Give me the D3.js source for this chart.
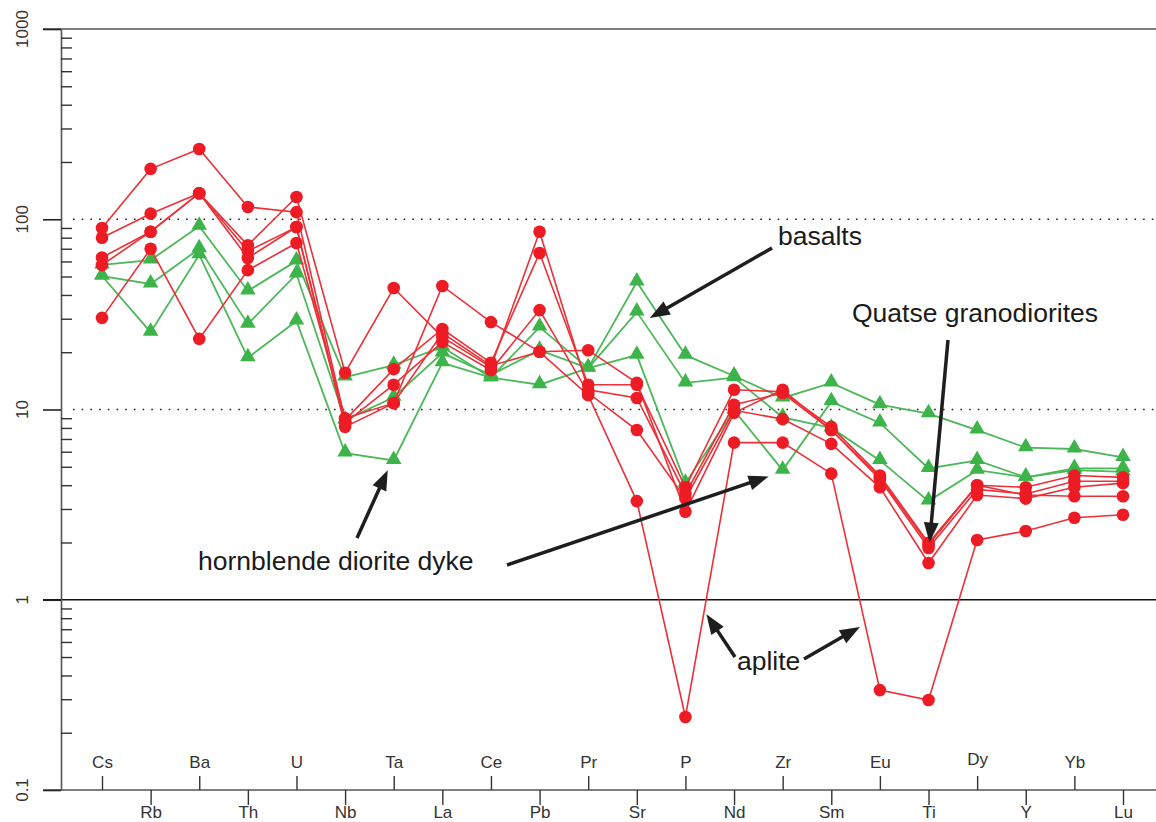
<!DOCTYPE html>
<html>
<head>
<meta charset="utf-8">
<script src="https://cdn.jsdelivr.net/npm/d3@7"></script>
<style>
  body { margin: 0; background: #fff; }
  text { font-family: "Liberation Sans", Arial, sans-serif; }
</style>
</head>
<body>
<div id="my_dataviz"></div>
<script>
// Elements along the spider diagram (odd ones labelled above the axis, even ones below)
const elements = ["Cs", "Rb", "Ba", "Th", "U", "Nb", "Ta", "La", "Ce", "Pb", "Pr",
                  "Sr", "P", "Nd", "Zr", "Sm", "Eu", "Ti", "Dy", "Y", "Yb", "Lu"];

// Quatse granodiorites + aplite (red circles)
const granodiorite1 = [90, 184, 234, 116, 109, 8.8, 16.3, 26.5, 17.6, 66.5, 13.5, 13.5, 3.9, 12.7, 12.4, 8.1, 4.5, 1.99, 4.0, 3.9, 4.5, 4.4];
const granodiorite2 = [80, 107, 137, 73, 131, 15.6, 43.5, 24.0, 16.7, 86, 12.7, 11.5, 3.6, 10.6, 12.2, 7.8, 4.3, 1.87, 3.8, 3.6, 4.2, 4.2];
const granodiorite3 = [63, 86, 137, 68, 91, 8.5, 13.5, 22.6, 16.1, 33.3, 12.2, 7.8, 3.4, 9.9, 8.9, 6.6, 3.9, 1.56, 3.55, 3.4, 3.9, 4.1];
const granodiorite4 = [57.5, 86, 137, 62.6, 91, 8.1, 10.8, 44.6, 28.8, 20.1, 20.5, 13.8, 2.9, 9.6, 12.7, 7.8, 4.4, 1.94, 4.0, 3.55, 3.5, 3.5];
const aplite = [30.3, 70, 23.5, 54, 75, 9.0, 10.8, 25.2, 17, 20.1, 11.9, 3.3, 0.242, 6.7, 6.7, 4.6, 0.335, 0.297, 2.06, 2.3, 2.7, 2.8];

// Basalts and hornblende diorite dyke (green triangles)
const basalt1 = [57.5, 61, 92, 42, 60.4, 14.8, 17.1, 21.3, 14.7, 27.1, 16.5, 46.8, 19.3, 15.0, 11.5, 13.8, 10.6, 9.5, 7.8, 6.3, 6.2, 5.6];
const basalt2 = [50.3, 45.7, 70, 28.1, 51.5, 8.8, 11.6, 19.8, 15.2, 20.5, 16.5, 32.5, 13.8, 14.7, 9.1, 8.0, 5.4, 3.3, 4.8, 4.4, 4.8, 4.7];
const hornblendeDyke = [50.3, 25.5, 65, 18.7, 29.2, 5.9, 5.4, 17.6, 14.7, 13.5, 16.5, 19.3, 4.1, 9.9, 4.8, 11.0, 8.5, 4.9, 5.4, 4.4, 4.9, 4.9];

// Y axis ticks
const majorTicks = [0.1, 1, 10, 100, 1000];
const majorLabels = ["0.1", "1", "10", "100", "1000"];

const redSeries = [granodiorite1, granodiorite2, granodiorite3, granodiorite4, aplite];
const greenSeries = [basalt1, basalt2, hornblendeDyke];

const width = 1156, height = 822;
const axisX = 61, lineStart = 43;

const svg = d3.select("#my_dataviz").append("svg")
    .attr("width", width)
    .attr("height", height);

svg.append("rect").attr("width", width).attr("height", height).attr("fill", "#fff");

const xScale = d3.scalePoint().domain(elements).range([102, 1123]);
const yScale = d3.scaleLog().domain([0.1, 1000]).range([790, 29]);

// minor ticks 2..9 of each decade
const minorTicks = [];
for (let d = 0.1; d < 1000; d *= 10) {
    for (let k = 2; k <= 9; k++) minorTicks.push(+(d * k).toPrecision(3));
}

// Horizontal reference lines
svg.append("g").selectAll("line")
    .data([0.1, 1, 1000])
    .join("line")
    .attr("x1", lineStart).attr("x2", width)
    .attr("y1", d => yScale(d)).attr("y2", d => yScale(d))
    .attr("stroke", d => d === 1 ? "#111" : "#555")
    .attr("stroke-width", 1.6);

svg.append("g").selectAll("line")
    .data([10, 100])
    .join("line")
    .attr("x1", axisX + 12).attr("x2", width)
    .attr("y1", d => yScale(d)).attr("y2", d => yScale(d))
    .attr("stroke", "#222")
    .attr("stroke-width", 1.6)
    .attr("stroke-dasharray", "1.6,7.1");

// Y axis: major ticks outward, minor ticks inward
const yMajor = svg.append("g")
    .attr("transform", `translate(${axisX},0)`)
    .call(d3.axisLeft(yScale).tickValues(majorTicks).tickSize(axisX - lineStart).tickSizeOuter(0).tickFormat(""));
yMajor.select(".domain").attr("stroke", "#555").attr("stroke-width", 1.6);
yMajor.selectAll(".tick line").attr("stroke", "#222").attr("stroke-width", 1.6);

const yMinor = svg.append("g")
    .attr("transform", `translate(${axisX},0)`)
    .call(d3.axisRight(yScale).tickValues(minorTicks).tickSize(11).tickSizeOuter(0).tickFormat(""));
yMinor.select(".domain").remove();
yMinor.selectAll(".tick line").attr("stroke", "#333").attr("stroke-width", 1.4);

svg.append("g").selectAll("text")
    .data(majorTicks)
    .join("text")
    .attr("transform", d => `translate(28, ${yScale(d)}) rotate(-90)`)
    .attr("text-anchor", "middle")
    .attr("font-size", 17)
    .attr("fill", "#333")
    .text((d, i) => majorLabels[i]);

// X axis: alternate labels above / below
const oddEls = elements.filter((d, i) => i % 2 === 0);
const evenEls = elements.filter((d, i) => i % 2 === 1);

const xTop = svg.append("g")
    .attr("transform", `translate(0,${yScale(0.1)})`)
    .call(d3.axisTop(xScale).tickValues(oddEls).tickSize(14).tickPadding(8).tickSizeOuter(0));
const xBottom = svg.append("g")
    .attr("transform", `translate(0,${yScale(0.1)})`)
    .call(d3.axisBottom(xScale).tickValues(evenEls).tickSize(15).tickPadding(1).tickSizeOuter(0));
[xTop, xBottom].forEach(g => {
    g.select(".domain").remove();
    g.selectAll(".tick line").attr("stroke", "#333").attr("stroke-width", 1.4);
    g.selectAll(".tick text")
        .attr("font-size", 17)
        .attr("fill", "#333")
        .style("font-family", "'Liberation Sans', Arial, sans-serif");
});
// "Dy" sits a little higher in the original (descender)
xTop.selectAll(".tick text").filter(d => d === "Dy").attr("dy", "-0.2em");

// Series
const line = d3.line()
    .x((d, i) => xScale(elements[i]))
    .y(d => yScale(d));

const greenLine = "#4cb85a", greenFill = "#3db449";
const redLine = "#ec3038", redFill = "#ed1c24";

const tri = d3.symbol().type(d3.symbolTriangle).size(105);

greenSeries.forEach(s => {
    svg.append("path").datum(s)
        .attr("d", line)
        .attr("fill", "none")
        .attr("stroke", greenLine)
        .attr("stroke-width", 1.8);
});
greenSeries.forEach(s => {
    svg.append("g").selectAll("path")
        .data(s)
        .join("path")
        .attr("d", tri)
        .attr("transform", (d, i) => `translate(${xScale(elements[i])},${yScale(d) - 1})`)
        .attr("fill", greenFill);
});

redSeries.forEach(s => {
    svg.append("path").datum(s)
        .attr("d", line)
        .attr("fill", "none")
        .attr("stroke", redLine)
        .attr("stroke-width", 1.6);
});
redSeries.forEach(s => {
    svg.append("g").selectAll("circle")
        .data(s)
        .join("circle")
        .attr("cx", (d, i) => xScale(elements[i]))
        .attr("cy", d => yScale(d))
        .attr("r", 6.3)
        .attr("fill", redFill);
});

// Annotations: tail in pixels, head given as element + value (+ pixel offset)
function drawArrow(x1, y1, x2, y2) {
    const ang = Math.atan2(y2 - y1, x2 - x1);
    const len = 20, half = 7.5;
    const bx = x2 - len * Math.cos(ang), by = y2 - len * Math.sin(ang);
    svg.append("line")
        .attr("x1", x1).attr("y1", y1)
        .attr("x2", bx + 2 * Math.cos(ang)).attr("y2", by + 2 * Math.sin(ang))
        .attr("stroke", "#1e1e1e")
        .attr("stroke-width", 3.5);
    const px = -Math.sin(ang), py = Math.cos(ang);
    svg.append("path")
        .attr("d", `M${x2},${y2}L${bx + px * half},${by + py * half}L${bx - px * half},${by - py * half}Z`)
        .attr("fill", "#1e1e1e");
}

const annotations = [
    { text: "basalts", tx: 778, ty: 245, arrows: [{ x1: 772, y1: 248, el: "Sr", dx: 13, v: 30.3 }] },
    { text: "Quatse granodiorites", tx: 852, ty: 322, arrows: [{ x1: 948, y1: 340, el: "Ti", dx: 1, v: 2.0 }] },
    { text: "hornblende diorite dyke", tx: 198, ty: 570, arrows: [
        { x1: 357, y1: 538, el: "Ta", dx: -6, v: 4.8 },
        { x1: 507, y1: 565, el: "Zr", dx: -14, v: 4.45 }] },
    { text: "aplite", tx: 737, ty: 670, arrows: [
        { x1: 735, y1: 657, el: "P", dx: 21, v: 0.84 },
        { x1: 804, y1: 659, el: "Eu", dx: -20, v: 0.72 }] }
];

annotations.forEach(a => {
    a.arrows.forEach(r => drawArrow(r.x1, r.y1, xScale(r.el) + r.dx, yScale(r.v)));
    svg.append("text")
        .attr("x", a.tx)
        .attr("y", a.ty)
        .attr("font-size", 26.5)
        .attr("fill", "#1a1a1a")
        .text(a.text);
});
</script>
</body>
</html>
